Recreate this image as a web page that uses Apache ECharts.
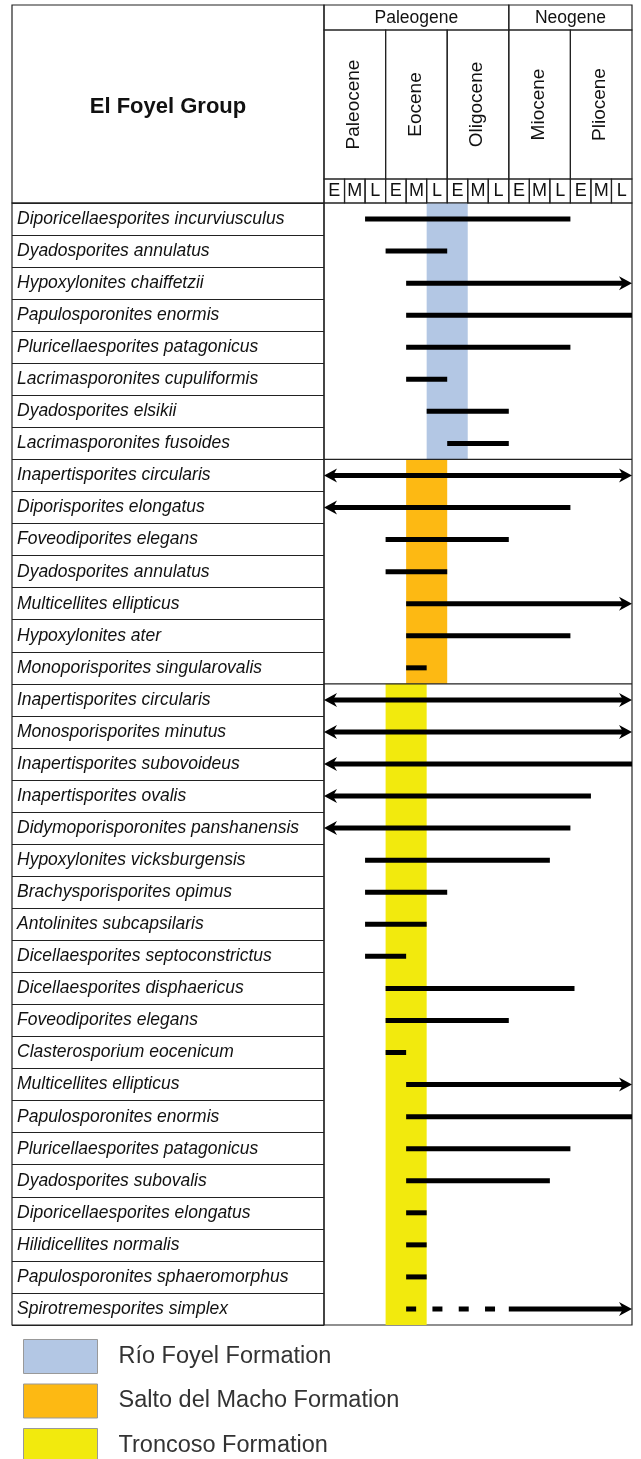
<!DOCTYPE html>
<html>
<head>
<meta charset="utf-8">
<script src="https://cdn.jsdelivr.net/npm/echarts@6/dist/echarts.min.js"></script>
<style>
    html, body { margin: 0; padding: 0; background: #fff; }
    #chart { width: 641px; height: 1459px; }
</style>
</head>
<body>
<div id="chart"></div>
<script>
// 物种（自上而下）
const species = [
    'Diporicellaesporites incurviusculus', 'Dyadosporites annulatus', 'Hypoxylonites chaiffetzii',
    'Papulosporonites enormis', 'Pluricellaesporites patagonicus', 'Lacrimasporonites cupuliformis',
    'Dyadosporites elsikii', 'Lacrimasporonites fusoides',
    'Inapertisporites circularis', 'Diporisporites elongatus', 'Foveodiporites elegans',
    'Dyadosporites annulatus', 'Multicellites ellipticus', 'Hypoxylonites ater',
    'Monoporisporites singularovalis',
    'Inapertisporites circularis', 'Monosporisporites minutus', 'Inapertisporites subovoideus',
    'Inapertisporites ovalis', 'Didymoporisporonites panshanensis', 'Hypoxylonites vicksburgensis',
    'Brachysporisporites opimus', 'Antolinites subcapsilaris', 'Dicellaesporites septoconstrictus',
    'Dicellaesporites disphaericus', 'Foveodiporites elegans', 'Clasterosporium eocenicum',
    'Multicellites ellipticus', 'Papulosporonites enormis', 'Pluricellaesporites patagonicus',
    'Dyadosporites subovalis', 'Diporicellaesporites elongatus', 'Hilidicellites normalis',
    'Papulosporonites sphaeromorphus', 'Spirotremesporites simplex'
];
// 延限（单位：亚世，0 = 古新世早期起点，15 = 上新世晚期终点）
const rangeStart = [2, 3, 4, 4, 4, 4, 5, 6,
    0, 0, 3, 3, 4, 4, 4,
    0, 0, 0, 0, 0, 2, 2, 2, 2, 3, 3, 3, 4, 4, 4, 4, 4, 4, 4, 9];
const rangeEnd = [12, 6, 15, 15, 12, 6, 9, 9,
    15, 12, 9, 6, 15, 12, 5,
    15, 15, 15, 13, 12, 11, 6, 5, 4, 12.2, 9, 4, 15, 15, 12, 11, 5, 5, 5, 15];
const arrowLeft = [0, 0, 0, 0, 0, 0, 0, 0,
    1, 1, 0, 0, 0, 0, 0,
    1, 1, 1, 1, 1, 0, 0, 0, 0, 0, 0, 0, 0, 0, 0, 0, 0, 0, 0, 0];
const arrowRight = [0, 0, 1, 0, 0, 0, 0, 0,
    1, 0, 0, 0, 1, 0, 0,
    1, 1, 0, 0, 0, 0, 0, 0, 0, 0, 0, 0, 1, 0, 0, 0, 0, 0, 0, 1];
// 虚线段 [行, 起, 止]
const dashedRanges = [[34, 4, 8.35]];

// 组（地层）
const formations = ['Río Foyel Formation', 'Salto del Macho Formation', 'Troncoso Formation'];
const formationSpan = [[5, 7], [4, 6], [3, 5]];
const formationRows = [8, 7, 20];
const formationColors = ['#b3c7e4', '#fdb913', '#f2ea0d'];

// 表头
const periods = ['Paleogene', 'Neogene'];
const periodSpan = [[0, 9], [9, 15]];
const epochs = ['Paleocene', 'Eocene', 'Oligocene', 'Miocene', 'Pliocene'];
const subEpochs = ['E', 'M', 'L'];

const LINE = '#222';
const FONT = 'Liberation Sans, Arial, sans-serif';
const HEAD_ROWS = [[0, 25], [25, 174], [174, 198]];
const HEAD_FONT = [17.5, 19, 18];

let chart = echarts.init(document.getElementById('chart'), null, { renderer: 'canvas' });

// 表头单元格
let headerCells = [];
periods.forEach((p, i) => headerCells.push({ x0: periodSpan[i][0], x1: periodSpan[i][1], row: 0, text: p }));
epochs.forEach((e, i) => {
    headerCells.push({ x0: i * 3, x1: i * 3 + 3, row: 1, text: e });
    subEpochs.forEach((s, j) => headerCells.push({ x0: i * 3 + j, x1: i * 3 + j + 1, row: 2, text: s }));
});

function renderHeader(params, api) {
    let cell = headerCells[params.dataIndex];
    let r = HEAD_ROWS[cell.row];
    let a = api.coord([cell.x0, r[0]]);
    let b = api.coord([cell.x1, r[1]]);
    let cx = (a[0] + b[0]) / 2, cy = (a[1] + b[1]) / 2;
    return {
        type: 'group',
        children: [
            { type: 'rect', shape: { x: a[0], y: a[1], width: b[0] - a[0], height: b[1] - a[1] },
              style: { fill: 'none', stroke: LINE, lineWidth: 1.2 } },
            { type: 'text', x: cx - (cell.row == 1 ? 1 : 0), y: cy + (cell.row == 0 ? 0.5 : 0),
              rotation: cell.row == 1 ? Math.PI / 2 : 0,
              style: { text: cell.text, fill: '#111', font: HEAD_FONT[cell.row] + 'px ' + FONT,
                       align: 'center', verticalAlign: 'middle' } }
        ]
    };
}

function renderBand(params, api) {
    let a = api.coord([api.value(0), api.value(2)]);
    let b = api.coord([api.value(1), api.value(3)]);
    let h = api.size([0, 1])[1];
    let top = a[1] - h / 2, bottom = b[1] + h / 2;
    let children = [{
        type: 'rect', shape: { x: a[0], y: top, width: b[0] - a[0], height: bottom - top },
        style: { fill: api.visual('color') }
    }];
    // 组间分隔线
    if (api.value(2) > 0) {
        let l = api.coord([0, 0])[0], r = api.coord([15, 0])[0];
        children.push({ type: 'line', shape: { x1: l, y1: top, x2: r, y2: top }, style: { stroke: LINE, lineWidth: 1.2 } });
    }
    return { type: 'group', children: children };
}

function arrowHead(x, y, dir) {
    return {
        type: 'polygon',
        shape: { points: [[x, y], [x - dir * 13, y - 7], [x - dir * 9, y], [x - dir * 13, y + 7]] },
        style: { fill: '#000' }
    };
}

function renderRange(params, api) {
    let row = api.value(2);
    let p0 = api.coord([api.value(0), row]);
    let p1 = api.coord([api.value(1), row]);
    let y = p0[1];
    let x0 = p0[0], x1 = p1[0];
    let children = [];
    if (api.value(3)) { children.push(arrowHead(p0[0], y, -1)); x0 += 9; }
    if (api.value(4)) { children.push(arrowHead(p1[0], y, 1)); x1 -= 9; }
    children.push({
        type: 'line', shape: { x1: x0, y1: y, x2: x1, y2: y },
        style: { stroke: '#000', lineWidth: 5, lineDash: api.value(5) ? [10, 16.3] : null }
    });
    return { type: 'group', children: children };
}

let rangeData = species.map((n, i) => [rangeStart[i], rangeEnd[i], i, arrowLeft[i], arrowRight[i], 0]);
dashedRanges.forEach(d => rangeData.push([d[1], d[2], d[0], 0, 0, 1]));

let rowFrom = 0;
let bandSeries = formations.map((f, k) => {
    let from = rowFrom;
    rowFrom += formationRows[k];
    return {
        name: f, type: 'custom', xAxisIndex: 0, yAxisIndex: 0, z: 1,
        itemStyle: { color: formationColors[k] },
        renderItem: renderBand,
        data: [[formationSpan[k][0], formationSpan[k][1], from, rowFrom - 1]]
    };
});

let option = {
    backgroundColor: '#fff',
    animation: false,
    grid: [
        { left: 324, right: 9, top: 203, height: 1122, show: true, borderColor: LINE, borderWidth: 1.2 },
        { left: 12, width: 312, top: 203, height: 1122, show: true, borderColor: LINE, borderWidth: 1.2 },
        { left: 324, right: 9, top: 5, height: 198 }
    ],
    xAxis: [
        { gridIndex: 0, type: 'value', min: 0, max: 15, show: false },
        { gridIndex: 1, type: 'value', min: 0, max: 1, show: false },
        { gridIndex: 2, type: 'value', min: 0, max: 15, show: false }
    ],
    yAxis: [
        {
            gridIndex: 0, type: 'category', data: species, inverse: true,
            axisLine: { show: false }, axisTick: { show: false }, splitLine: { show: false },
            axisLabel: {
                interval: 0, align: 'left', margin: 307, fontStyle: 'italic',
                fontSize: 17.5, fontFamily: FONT, color: '#111'
            }
        },
        {
            gridIndex: 1, type: 'category', data: species, inverse: true,
            axisLine: { show: false }, axisTick: { show: false }, axisLabel: { show: false },
            splitLine: { show: true, interval: 0, lineStyle: { color: LINE, width: 1.2 } }
        },
        { gridIndex: 2, type: 'value', min: 0, max: 198, inverse: true, show: false }
    ],
    legend: {
        orient: 'vertical', left: 18, top: 1334, height: 160, itemWidth: 74, itemHeight: 34, itemGap: 9.5,
        icon: 'rect', data: formations,
        itemStyle: { borderColor: '#999', borderWidth: 1 },
        textStyle: { fontSize: 23.5, fontFamily: FONT, color: '#333', padding: [0, 0, 0, 16] }
    },
    graphic: [
        { type: 'rect', shape: { x: 12, y: 5, width: 312, height: 198 }, style: { fill: 'none', stroke: LINE, lineWidth: 1.2 } },
        { type: 'text', x: 168, y: 107, style: { text: 'El Foyel Group', font: 'bold 22px ' + FONT, fill: '#111', align: 'center', verticalAlign: 'middle' } }
    ],
    series: bandSeries.concat([
        {
            type: 'custom', name: 'ranges', xAxisIndex: 0, yAxisIndex: 0, z: 3,
            renderItem: renderRange, data: rangeData, clip: false
        },
        {
            type: 'custom', name: 'header', xAxisIndex: 2, yAxisIndex: 2, z: 3,
            renderItem: renderHeader, data: headerCells.map(c => [c.x0, c.x1, c.row])
        }
    ])
};

chart.setOption(option);
</script>
</body>
</html>
